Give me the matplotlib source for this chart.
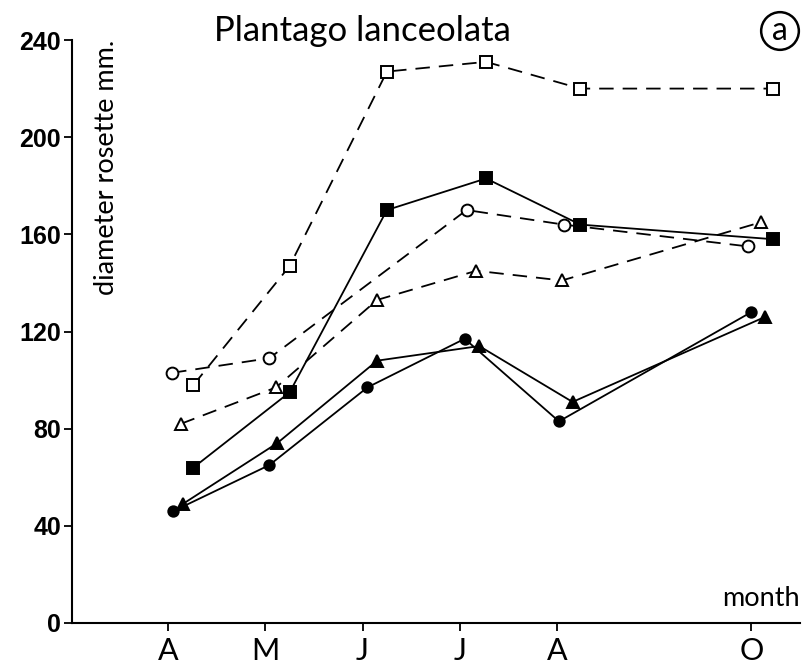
import matplotlib
matplotlib.use("Agg")
import matplotlib.pyplot as plt

# month index: A=0, M=1, J=2, J=3, A=4, (S=5), O=6
month_pos = [0, 1, 2, 3, 4, 6]
month_labels = ["A", "M", "J", "J", "A", "O"]

# open squares, dashed
x_osq = [0.26, 1.25, 2.25, 3.27, 4.24, 6.22]
y_osq = [98, 147, 227, 231, 220, 220]
# filled squares, solid
x_fsq = [0.26, 1.25, 2.25, 3.27, 4.24, 6.22]
y_fsq = [64, 95, 170, 183, 164, 158]
# open circles, dashed
x_oci = [0.04, 1.04, 3.07, 4.07, 5.97]
y_oci = [103, 109, 170, 164, 155]
# open triangles, dashed
x_otr = [0.13, 1.11, 2.15, 3.17, 4.05, 6.10]
y_otr = [82, 97, 133, 145, 141, 165]
# filled triangles, solid
x_ftr = [0.15, 1.12, 2.15, 3.20, 4.16, 6.14]
y_ftr = [49, 74, 108, 114, 91, 126]
# filled circles, solid
x_fci = [0.05, 1.04, 2.05, 3.05, 4.02, 6.00]
y_fci = [46, 65, 97, 117, 83, 128]

fig = plt.figure(figsize=(8.05, 6.70), dpi=100)
ax = fig.add_axes([72 / 805, 47 / 670, 728 / 805, 583 / 670])

lw = 1.3
dash = (8, 5)
common = dict(color="black", linewidth=lw, markeredgewidth=1.4, clip_on=False)

ax.plot(x_osq, y_osq, marker="s", markersize=8.5, markerfacecolor="white",
        dashes=dash, **common)
ax.plot(x_oci, y_oci, marker="o", markersize=8.5, markerfacecolor="white",
        dashes=dash, **common)
ax.plot(x_otr, y_otr, marker="^", markersize=8.5, markerfacecolor="white",
        dashes=dash, **common)
ax.plot(x_fsq, y_fsq, marker="s", markersize=8.5, markerfacecolor="black", **common)
ax.plot(x_ftr, y_ftr, marker="^", markersize=8.5, markerfacecolor="black", **common)
ax.plot(x_fci, y_fci, marker="o", markersize=7.5, markerfacecolor="black", **common)

ax.set_xlim(-0.99, 6.5)
ax.set_ylim(0, 240)

for s in ["top", "right"]:
    ax.spines[s].set_visible(False)
for s in ["left", "bottom"]:
    ax.spines[s].set_linewidth(1.5)

ax.set_yticks([0, 40, 80, 120, 160, 200, 240])
ax.set_yticklabels(["0", "40", "80", "120", "160", "200", "240"],
                   fontfamily="Liberation Sans", fontweight="bold", fontsize=18)
ax.set_xticks(month_pos)
ax.set_xticklabels(month_labels, fontfamily="Lato", fontsize=22)
ax.tick_params(axis="y", direction="out", length=6, width=1.3, pad=2)
ax.tick_params(axis="x", direction="out", length=6, width=1.3, pad=4)

ax.text(-0.63, 240, "diameter rosette mm.", rotation=90, ha="center", va="top",
        fontfamily="Lato", fontsize=19.5)
ax.text(6.5, 5, "month", ha="right", va="bottom", fontfamily="Lato", fontsize=19.5)

fig.text(362 / 805, 1 - 31 / 670, "Plantago lanceolata", ha="center", va="center",
         fontfamily="Lato", fontsize=25)
fig.text(780 / 805, 1 - 31 / 670, "a", ha="center", va="center",
         fontfamily="Lato", fontsize=23,
         bbox=dict(boxstyle="circle,pad=0.12", fc="white", ec="black", lw=1.8))

fig.savefig("out.png", dpi=100)
